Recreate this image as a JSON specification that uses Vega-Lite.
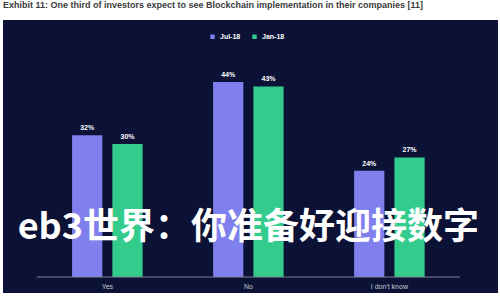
{
  "$schema": "https://vega.github.io/schema/vega-lite/v6.json",
  "width": 495,
  "height": 273,
  "padding": {"left": 3, "top": 1, "right": 2, "bottom": 0},
  "background": "white",
  "title": {
    "text": "Exhibit 11: One third of investors expect to see Blockchain implementation in their companies [11]",
    "anchor": "start",
    "font": "Liberation Sans",
    "fontSize": 9,
    "fontWeight": "bold",
    "color": "#3a3a3a",
    "offset": 10
  },
  "config": {"view": {"fill": "#0b1236", "stroke": null}},
  "datasets": {
    "bars": [
      {"answer": "Yes", "period": "Jul-18", "value": 32, "label": "32%"},
      {"answer": "Yes", "period": "Jan-18", "value": 30, "label": "30%"},
      {"answer": "No", "period": "Jul-18", "value": 44, "label": "44%"},
      {"answer": "No", "period": "Jan-18", "value": 43, "label": "43%"},
      {"answer": "I don't know", "period": "Jul-18", "value": 24, "label": "24%"},
      {"answer": "I don't know", "period": "Jan-18", "value": 27, "label": "27%"}
    ],
    "overlay": [
      {"caption": "eb3世界：你准备好迎接数字"}
    ],
    "base": [{"v": 0}]
  },
  "layer": [
    {
      "data": {"name": "bars"},
      "mark": {"type": "bar"},
      "encoding": {
        "x": {
          "field": "answer", "type": "nominal",
          "sort": ["Yes", "No", "I don't know"],
          "scale": {"paddingInner": 0.5, "paddingOuter": 0.505, "align": 0.485},
          "axis": {
            "title": null, "domain": false, "ticks": false, "labelAngle": 0,
            "labelColor": "#c8cbd6", "labelFontSize": 7, "labelFont": "Liberation Sans",
            "labelPadding": 5, "offset": -16
          }
        },
        "xOffset": {"field": "period", "type": "nominal", "sort": ["Jul-18", "Jan-18"], "scale": {"paddingInner": 0.25}},
        "y": {"field": "value", "type": "quantitative", "scale": {"domain": [-3.6, 58], "nice": false, "zero": false}, "axis": null},
        "color": {
          "field": "period", "type": "nominal",
          "scale": {"domain": ["Jul-18", "Jan-18"], "range": ["#7f80ee", "#33cc8c"]},
          "legend": {
            "orient": "none", "direction": "horizontal", "legendX": 206, "legendY": 13,
            "title": null, "symbolType": "square", "symbolSize": 20,
            "labelColor": "white", "labelFontSize": 7, "labelFontWeight": "bold",
            "labelFont": "Liberation Sans", "columnPadding": 10, "symbolStrokeWidth": 0
          }
        }
      }
    },
    {
      "data": {"name": "bars"},
      "mark": {"type": "text", "color": "white", "fontSize": 7, "fontWeight": "bold", "font": "Liberation Sans", "baseline": "bottom", "dy": -4},
      "encoding": {
        "x": {"field": "answer", "type": "nominal", "sort": ["Yes", "No", "I don't know"]},
        "xOffset": {"field": "period", "type": "nominal", "sort": ["Jul-18", "Jan-18"]},
        "y": {"field": "value", "type": "quantitative"},
        "text": {"field": "label"}
      }
    },
    {
      "data": {"name": "base"},
      "mark": {"type": "rule", "color": "#7c8294", "strokeWidth": 1},
      "encoding": {
        "x": {"datum": "Yes", "type": "nominal", "bandPosition": -0.5},
        "x2": {"datum": "I don't know", "bandPosition": 1.5},
        "y": {"field": "v", "type": "quantitative"}
      }
    },
    {
      "data": {"name": "overlay"},
      "mark": {"type": "text", "color": "white", "fontSize": 36, "fontWeight": "bold", "font": "Noto Sans CJK SC", "baseline": "middle", "align": "center"},
      "encoding": {
        "x": {"datum": "No", "type": "nominal"},
        "y": {"datum": 11, "type": "quantitative"},
        "text": {"field": "caption"}
      }
    }
  ]
}
